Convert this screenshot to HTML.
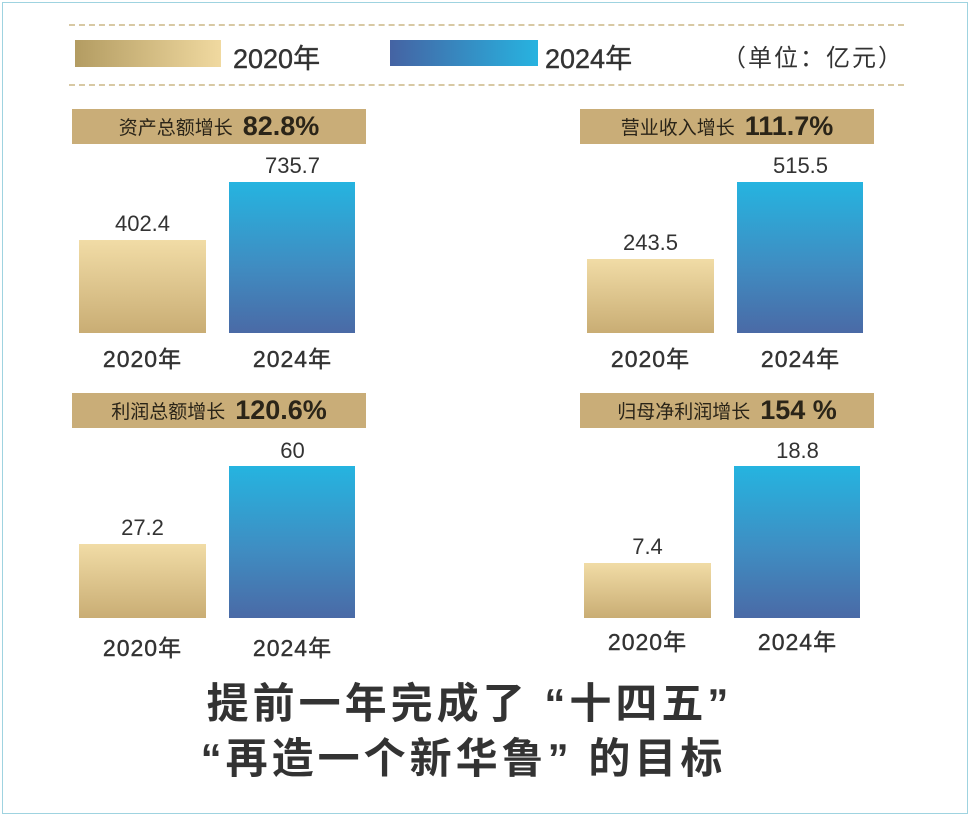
<!DOCTYPE html>
<html><head><meta charset="utf-8"><style>
*{margin:0;padding:0;box-sizing:border-box}
body{width:971px;height:818px;background:#fff;position:relative;overflow:hidden;font-family:"Liberation Sans","Noto Sans CJK SC",sans-serif;color:#333}
.a{position:absolute}
.dash{position:absolute;left:69px;width:835px;border-top:2px dashed #d8c9a4}
.g{background:linear-gradient(to bottom,#f1dca6,#c9ad74)}
.b{background:linear-gradient(to bottom,#25b4e0,#3f8dc2 55%,#4a6aa6)}
.hdr{position:absolute;background:#c9ad78;height:35px;width:294px;display:flex;align-items:center;justify-content:center;color:#2a2418;font-size:19px}
.hdr b{font-size:27px;margin-left:10px;font-weight:bold}
.v{position:absolute;width:127px;text-align:center;font-size:22px;color:#333}
.l{position:absolute;width:127px;text-align:center;font-size:23px;color:#333;letter-spacing:1px;-webkit-text-stroke:0.4px #333}
.t{position:absolute;left:-16px;width:971px;text-align:center;font-size:42px;font-weight:bold;color:#333;line-height:48px;letter-spacing:4px}
</style></head><body>
<div class="a" style="left:2px;top:2px;width:966px;height:812px;border:1px solid #9fd3e0"></div>
<div class="dash" style="top:24px"></div>
<div class="dash" style="top:84px"></div>
<div class="a" style="left:75px;top:40px;width:146px;height:27px;background:linear-gradient(to right,#b39c62,#f0d9a0)"></div>
<div class="a" style="left:233px;top:37px;font-size:27px;-webkit-text-stroke:0.4px #333">2020年</div>
<div class="a" style="left:390px;top:40px;width:148px;height:26px;background:linear-gradient(to right,#4563a3,#27b3e0)"></div>
<div class="a" style="left:545px;top:37px;font-size:27px;-webkit-text-stroke:0.4px #333">2024年</div>
<div class="a" style="left:722px;top:38px;font-size:24px;letter-spacing:2px">（单位：亿元）</div>

<div class="hdr" style="left:72px;top:109px">资产总额增长<b>82.8%</b></div>
<div class="v" style="left:79px;top:211px">402.4</div>
<div class="v" style="left:229px;top:153px">735.7</div>
<div class="a g" style="left:79px;top:240px;width:127px;height:93px"></div>
<div class="a b" style="left:229px;top:182px;width:126px;height:151px"></div>
<div class="l" style="left:79px;top:340px">2020年</div>
<div class="l" style="left:229px;top:340px">2024年</div>

<div class="hdr" style="left:580px;top:109px">营业收入增长<b>111.7%</b></div>
<div class="v" style="left:587px;top:230px">243.5</div>
<div class="v" style="left:737px;top:153px">515.5</div>
<div class="a g" style="left:587px;top:259px;width:127px;height:74px"></div>
<div class="a b" style="left:737px;top:182px;width:126px;height:151px"></div>
<div class="l" style="left:587px;top:340px">2020年</div>
<div class="l" style="left:737px;top:340px">2024年</div>

<div class="hdr" style="left:72px;top:393px">利润总额增长<b>120.6%</b></div>
<div class="v" style="left:79px;top:515px">27.2</div>
<div class="v" style="left:229px;top:438px">60</div>
<div class="a g" style="left:79px;top:544px;width:127px;height:74px"></div>
<div class="a b" style="left:229px;top:466px;width:126px;height:152px"></div>
<div class="l" style="left:79px;top:629px">2020年</div>
<div class="l" style="left:229px;top:629px">2024年</div>

<div class="hdr" style="left:580px;top:393px">归母净利润增长<b>154 %</b></div>
<div class="v" style="left:584px;top:534px">7.4</div>
<div class="v" style="left:734px;top:438px">18.8</div>
<div class="a g" style="left:584px;top:563px;width:127px;height:55px"></div>
<div class="a b" style="left:734px;top:466px;width:126px;height:152px"></div>
<div class="l" style="left:584px;top:623px">2020年</div>
<div class="l" style="left:734px;top:623px">2024年</div>

<div class="t" style="top:680px">提前一年完成了 “十四五”</div>
<div class="t" style="top:735px;left:-22px">“再造一个新华鲁” 的目标</div>
</body></html>
